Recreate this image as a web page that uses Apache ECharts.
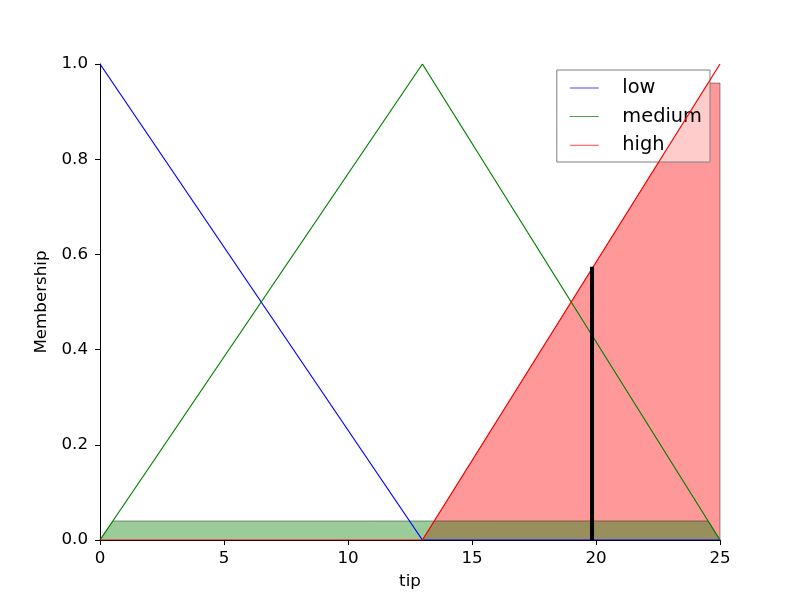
<!DOCTYPE html>
<html>
<head>
<meta charset="utf-8">
<script src="https://cdn.jsdelivr.net/npm/echarts@6/dist/echarts.min.js"></script>
<style>
  html, body { margin: 0; padding: 0; background: #fff; }
  #chart { width: 800px; height: 600px; }
</style>
</head>
<body>
<div id="chart"></div>
<script>
// membership functions of "tip" (triangles), as [x, y] corners
const lowPts = [[0, 1], [13, 0], [25, 0]]
const mediumPts = [[0, 0], [13, 1], [25, 0]]
const highPts = [[0, 0], [13, 0], [25, 1]]

// clipped (activated) areas
const mediumFill = [[0, 0], [0.52, 0.04], [24.52, 0.04], [25, 0]]
const highFill = [[13, 0], [24.52, 0.96], [25, 0.96], [25, 0]]

// defuzzified result (centroid) and its membership
const centroidX = 19.84
const centroidY = 0.574

const legendNames = ['low', 'medium', 'high']
const xTicks = { min: 0, max: 25, step: 5 }
const yTicks = { min: 0, max: 1, step: 0.2 }

const font = 'DejaVu Sans'
// a plain line for the legend key
const lineIcon = 'path://M0,0 L40,0 L40,1 L0,1 Z'

const chart = echarts.init(document.getElementById('chart'))

const fillSeries = (name, data, color) => ({
  name: name,
  type: 'line',
  data: data,
  symbol: 'none',
  silent: true,
  lineStyle: { color: 'rgba(0,0,0,0.4)', width: 1 },
  areaStyle: { color: color, opacity: 1, origin: 'start' },
  z: 1
})

const lineSeries = (name, data, color, z) => ({
  name: name,
  type: 'line',
  data: data,
  symbol: 'none',
  lineStyle: { color: color, width: 1.2 },
  itemStyle: { color: color },
  z: z
})

chart.setOption({
  animation: false,
  grid: { left: 100, right: 80, top: 64, bottom: 60 },
  legend: {
    data: legendNames.map(n => ({ name: n, icon: lineIcon })),
    orient: 'vertical',
    right: 90,
    top: 70,
    itemWidth: 29,
    itemHeight: 2,
    itemGap: 9.6,
    padding: [8.5, 8, 7.3, 13],
    backgroundColor: 'rgba(255,255,255,0.5)',
    borderColor: '#808080',
    borderWidth: 1,
    borderRadius: 0,
    formatter: name => '   ' + name,
    textStyle: { fontFamily: font, fontSize: 19.4, color: '#000' }
  },
  xAxis: {
    type: 'value',
    min: xTicks.min,
    max: xTicks.max,
    interval: xTicks.step,
    name: 'tip',
    nameLocation: 'middle',
    nameGap: 33,
    nameTextStyle: { fontFamily: font, fontSize: 16.7, color: '#000' },
    axisLine: { show: true, lineStyle: { color: '#000', width: 1 } },
    axisTick: { show: true, length: 5, lineStyle: { color: '#000' } },
    axisLabel: { fontFamily: font, fontSize: 16.7, color: '#000', margin: 10 },
    splitLine: { show: false }
  },
  yAxis: {
    type: 'value',
    min: yTicks.min,
    max: yTicks.max,
    interval: yTicks.step,
    name: 'Membership',
    nameLocation: 'middle',
    nameGap: 39,
    nameTextStyle: { fontFamily: font, fontSize: 16.7, color: '#000' },
    axisLine: { show: true, lineStyle: { color: '#000', width: 1 } },
    axisTick: { show: true, length: 5, lineStyle: { color: '#000' } },
    axisLabel: {
      fontFamily: font, fontSize: 16.7, color: '#000', margin: 12,
      formatter: v => v.toFixed(1)
    },
    splitLine: { show: false }
  },
  series: [
    fillSeries('highFill', highFill, 'rgba(255,0,0,0.4)'),
    fillSeries('mediumFill', mediumFill, 'rgba(0,128,0,0.4)'),
    lineSeries('low', lowPts, '#0000ff', 3),
    lineSeries('medium', mediumPts, '#008000', 4),
    lineSeries('high', highPts, '#ff0000', 5),
    {
      name: 'centroid',
      type: 'line',
      data: [[centroidX, 0], [centroidX, centroidY]],
      symbol: 'none',
      lineStyle: { color: '#000', width: 4 },
      z: 6
    }
  ]
})
</script>
</body>
</html>
